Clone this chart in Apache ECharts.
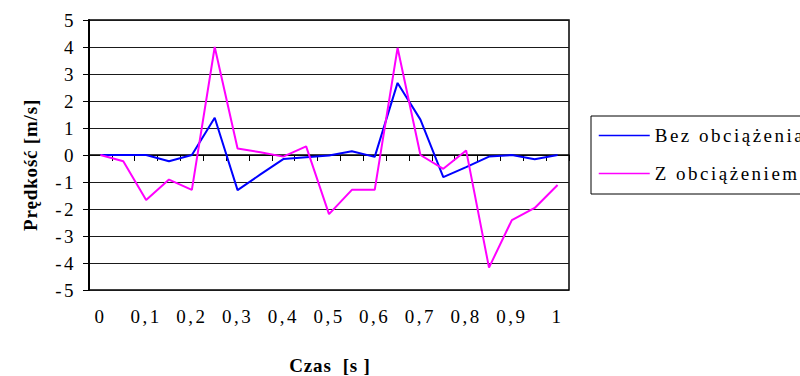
<!DOCTYPE html>
<html>
<head>
<meta charset="utf-8">
<script src="https://cdn.jsdelivr.net/npm/echarts@6/dist/echarts.min.js"></script>
<style>
  html, body { margin: 0; padding: 0; background: #fff; }
  #chart { width: 800px; height: 376px; }
  #chart text { letter-spacing: 2.5px; }
  #chart text[style*="bold"] { letter-spacing: 0.8px; }
</style>
</head>
<body>
<div id="chart"></div>
<script>
const categories = ['0','0,05','0,1','0,15','0,2','0,25','0,3','0,35','0,4','0,45','0,5','0,55','0,6','0,65','0,7','0,75','0,8','0,85','0,9','0,95','1'];
const bezObciazenia = [0, 0, 0, -0.23, 0, 1.38, -1.3, -0.72, -0.15, -0.08, -0.02, 0.14, -0.07, 2.67, 1.31, -0.82, -0.45, -0.06, 0, -0.16, 0];
const zObciazeniem = [0, -0.23, -1.67, -0.91, -1.29, 4.0, 0.24, 0.1, -0.06, 0.32, -2.19, -1.29, -1.29, 3.97, 0, -0.51, 0.17, -4.17, -2.41, -1.96, -1.11];
const seriesNames = ['Bez obciążenia', 'Z obciążeniem'];
const yTitle = 'Prędkość [m/s]';
const xTitle = 'Czas  [s ]';

const font = 'Liberation Serif';
const chart = echarts.init(document.getElementById('chart'), null, { renderer: 'svg' });
chart.setOption({
  animation: false,
  backgroundColor: '#fff',
  textStyle: { fontFamily: font },
  grid: { left: 89, top: 20, right: 231, bottom: 86, show: true, borderColor: '#000', borderWidth: 1.5, backgroundColor: '#fff' },
  xAxis: [
    {
      type: 'category', data: categories, position: 'bottom', boundaryGap: true,
      axisLine: { show: true, onZero: true, lineStyle: { color: '#000', width: 1.5 } },
      axisTick: { show: true, interval: 0, length: 6, lineStyle: { color: '#000', width: 1 } },
      axisLabel: { show: false },
      splitLine: { show: false }
    },
    {
      type: 'category', data: categories, position: 'bottom', boundaryGap: true,
      axisLine: { show: false, onZero: false },
      axisTick: { show: false },
      axisLabel: { show: true, interval: 1, margin: 17, color: '#000', fontFamily: font, fontSize: 19 },
      splitLine: { show: false }
    }
  ],
  yAxis: {
    type: 'value', min: -5, max: 5, interval: 1,
    axisLine: { show: true, onZero: false, lineStyle: { color: '#000', width: 2 } },
    axisTick: { show: true, length: 6, lineStyle: { color: '#000', width: 1 } },
    axisLabel: { color: '#000', fontFamily: font, fontSize: 19, margin: 13 },
    splitLine: { show: true, lineStyle: { color: '#1a1a1a', width: 1 } }
  },
  legend: {
    orient: 'vertical', left: 591, top: 116,
    padding: [10, 60, 11, 7],
    itemWidth: 51, itemHeight: 14, itemGap: 19,
    backgroundColor: '#fff', borderColor: '#000', borderWidth: 1,
    itemStyle: { opacity: 0 },
    lineStyle: { width: 1.5 },
    textStyle: { color: '#000', fontFamily: font, fontSize: 19 },
    data: seriesNames
  },
  graphic: [
    { type: 'text', x: 30, y: 165, rotation: Math.PI / 2,
      style: { text: yTitle, fill: '#000', font: 'bold 19px "Liberation Serif"', textAlign: 'center', textVerticalAlign: 'middle' } },
    { type: 'text', x: 330, y: 365,
      style: { text: xTitle, fill: '#000', font: 'bold 19px "Liberation Serif"', textAlign: 'center', textVerticalAlign: 'middle' } }
  ],
  series: [
    { name: seriesNames[0], type: 'line', data: bezObciazenia, xAxisIndex: 0, symbol: 'none',
      lineStyle: { color: '#0000ff', width: 2 }, itemStyle: { color: '#0000ff' } },
    { name: seriesNames[1], type: 'line', data: zObciazeniem, xAxisIndex: 0, symbol: 'none',
      lineStyle: { color: '#ff00ff', width: 2 }, itemStyle: { color: '#ff00ff' } }
  ]
});
</script>
</body>
</html>
